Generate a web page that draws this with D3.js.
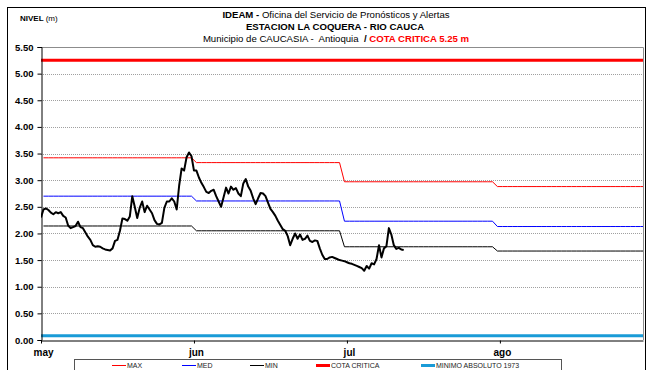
<!DOCTYPE html>
<html>
<head>
<meta charset="utf-8">
<script src="https://cdn.jsdelivr.net/npm/d3@7"></script>
<style>
  html, body { margin: 0; padding: 0; background: #ffffff; }
  svg { display: block; font-family: "Liberation Sans", Arial, sans-serif; }
</style>
</head>
<body>
<svg id="chart" width="647" height="370"></svg>
<script>
// ---- Data ----------------------------------------------------------------
// Month labels and their lengths (days) for the period shown
const monthLabels = ["may", "jun", "jul", "ago"];
const monthDays = [31, 30, 31, 31];

// Historical monthly statistics of the river level (m)
const maxMensual = [3.42, 3.33, 2.97, 2.88];
const medMensual = [2.70, 2.61, 2.23, 2.13];
const minMensual = [2.14, 2.05, 1.75, 1.67];

// Reference levels (m)
const cotaCritica = 5.25;
const minimoAbsoluto1973 = 0.08;

// Y axis tick values (m)
const yTicks = [0, 0.5, 1, 1.5, 2, 2.5, 3, 3.5, 4, 4.5, 5, 5.5];

// Observed level, one reading every 12 hours starting 1 May (m)
const nivelPasoDias = 0.5;
const nivel = [
  2.30, 2.45, 2.47, 2.44, 2.39, 2.36, 2.40, 2.38, 2.40, 2.33,
  2.30, 2.15, 2.10, 2.12, 2.14, 2.22, 2.12, 2.10, 2.02, 1.94,
  1.88, 1.78, 1.75, 1.76, 1.75, 1.72, 1.70, 1.69, 1.68, 1.72,
  1.86, 1.88, 2.05, 2.28, 2.27, 2.24, 2.32, 2.70, 2.50, 2.29,
  2.48, 2.60, 2.40, 2.52, 2.45, 2.38, 2.25, 2.18, 2.17, 2.20,
  2.48, 2.60, 2.60, 2.66, 2.60, 2.45, 2.90, 3.22, 3.18, 3.43,
  3.52, 3.45, 3.18, 3.18, 3.05, 2.95, 2.87, 2.78, 2.76, 2.80,
  2.82, 2.70, 2.60, 2.50, 2.68, 2.86, 2.75, 2.88, 2.82, 2.85,
  2.75, 2.70, 2.94, 3.02, 2.88, 2.80, 2.66, 2.55, 2.66, 2.76,
  2.75, 2.70, 2.58, 2.46, 2.40, 2.33, 2.24, 2.16, 2.08, 2.05,
  1.95, 1.78, 1.90, 2.00, 1.90, 1.98, 1.88, 1.90, 1.96, 1.86,
  1.84, 1.87, 1.86, 1.72, 1.60, 1.52, 1.52, 1.55, 1.56, 1.54,
  1.52, 1.50, 1.49, 1.48, 1.46, 1.44, 1.43, 1.41, 1.39, 1.37,
  1.35, 1.30, 1.39, 1.34, 1.44, 1.42, 1.52, 1.78, 1.55, 1.72,
  1.76, 2.10, 1.98, 1.78, 1.71, 1.73, 1.70, 1.69
];

// ---- Layout --------------------------------------------------------------
const plot = { left: 41, right: 643, top: 47, bottom: 340 };
const totalDays = 122;           // width of the category axis in days
const tickEvery = 31;            // axis tick interval in days

const svg = d3.select("#chart");

const x = d3.scaleLinear().domain([0, totalDays]).range([plot.left, plot.right]);
const y = d3.scaleLinear().domain([0, 5.5]).range([plot.bottom, plot.top]);

// Outer frame of the whole chart
svg.append("rect")
  .attr("x", 7.5).attr("y", 7.5)
  .attr("width", 638).attr("height", 400)
  .attr("fill", "none").attr("stroke", "#000").attr("stroke-width", 1);

// ---- Titles --------------------------------------------------------------
const t1 = svg.append("text").attr("x", 336).attr("y", 18)
  .attr("text-anchor", "middle").attr("font-size", 9.6).attr("fill", "#000");
t1.append("tspan").attr("font-weight", "bold").text("IDEAM - ");
t1.append("tspan").text("Oficina del Servicio de Pronósticos y Alertas");

svg.append("text").attr("x", 335).attr("y", 30)
  .attr("text-anchor", "middle").attr("font-size", 9.6)
  .attr("font-weight", "bold").attr("fill", "#000")
  .text("ESTACION LA COQUERA - RIO CAUCA");

const t3 = svg.append("text").attr("x", 336).attr("y", 42)
  .attr("text-anchor", "middle").attr("font-size", 9.6).attr("fill", "#000")
  .attr("xml:space", "preserve");
t3.append("tspan").text("Municipio de CAUCASIA -  Antioquia  ");
t3.append("tspan").attr("font-weight", "bold").text("/ ");
t3.append("tspan").attr("font-weight", "bold").attr("fill", "#ff0000")
  .text("COTA CRITICA 5.25 m");

const yl = svg.append("text").attr("x", 20).attr("y", 21)
  .attr("font-size", 8).attr("fill", "#000");
yl.append("tspan").attr("font-weight", "bold").text("NIVEL ");
yl.append("tspan").text("(m)");

// ---- Grid ----------------------------------------------------------------
svg.append("g")
  .selectAll("line")
  .data(yTicks.filter(v => v > 0 && v < 5.5))
  .join("line")
  .attr("x1", plot.left).attr("x2", plot.right)
  .attr("y1", d => Math.round(y(d)) + 0.5).attr("y2", d => Math.round(y(d)) + 0.5)
  .attr("stroke", "#a0a0a0").attr("stroke-width", 1)
  .attr("stroke-dasharray", "1,1");

// Plot area border (top and right)
svg.append("path")
  .attr("d", `M${plot.left},${plot.top + 0.5}H${plot.right + 0.5}V${plot.bottom}`)
  .attr("fill", "none").attr("stroke", "#8c8c8c").attr("stroke-width", 1);

// ---- Series --------------------------------------------------------------
svg.append("clipPath").attr("id", "plotClip")
  .append("rect")
  .attr("x", plot.left).attr("y", plot.top)
  .attr("width", plot.right - plot.left).attr("height", plot.bottom - plot.top);

const series = svg.append("g").attr("clip-path", "url(#plotClip)");

// expand monthly statistics to one value per day (plotted at mid-day)
function diario(mensual) {
  const out = [];
  let day = 0;
  mensual.forEach((v, m) => {
    for (let d = 0; d < monthDays[m]; d++) { out.push({ t: day + 0.5, v }); day++; }
  });
  return out;
}

const line = d3.line().x(d => x(d.t)).y(d => y(d.v));

// constant reference levels
[[minimoAbsoluto1973, "#1a9bd7", 3], [cotaCritica, "#ff0000", 3]].forEach(([v, c, w]) => {
  series.append("path")
    .attr("d", line([{ t: 0, v }, { t: totalDays, v }]))
    .attr("fill", "none").attr("stroke", c).attr("stroke-width", w);
});

[[minMensual, "#000000"], [medMensual, "#0000ff"], [maxMensual, "#ff0000"]].forEach(([s, c]) => {
  series.append("path")
    .attr("d", line(diario(s)))
    .attr("fill", "none").attr("stroke", c).attr("stroke-width", 1);
});

series.append("path")
  .attr("d", line(nivel.map((v, i) => ({ t: i * nivelPasoDias, v }))))
  .attr("fill", "none").attr("stroke", "#000").attr("stroke-width", 2)
  .attr("stroke-linejoin", "round");

// ---- Axes ----------------------------------------------------------------
const yAxis = svg.append("g")
  .attr("transform", `translate(${plot.left + 0.5},0)`)
  .call(d3.axisLeft(y).tickValues(yTicks).tickFormat(d3.format(".2f"))
    .tickSize(4).tickPadding(4));
yAxis.select(".domain").attr("stroke", "#000");
yAxis.selectAll("text").attr("font-size", 9.5).attr("font-weight", "bold")
  .attr("fill", "#000").attr("font-family", "'Liberation Sans', Arial, sans-serif");

const monthTicks = monthLabels.map((m, i) => i * tickEvery);
const xAxis = svg.append("g")
  .attr("transform", `translate(0,${plot.bottom + 0.5})`)
  .call(d3.axisBottom(x).tickValues(monthTicks).tickFormat((d, i) => monthLabels[i])
    .tickSize(3).tickSizeOuter(0).tickPadding(5));
xAxis.select(".domain").attr("stroke", "#000");
xAxis.selectAll("text").attr("font-size", 10).attr("font-weight", "bold")
  .attr("fill", "#000").attr("dx", 2)
  .attr("font-family", "'Liberation Sans', Arial, sans-serif");

// ---- Legend --------------------------------------------------------------
svg.append("rect")
  .attr("x", 74.5).attr("y", 359.5).attr("width", 487).attr("height", 30)
  .attr("fill", "#fff").attr("stroke", "#555").attr("stroke-width", 1);

const legendItems = [
  { label: "MAX", color: "#ff0000", w: 1, x: 112 },
  { label: "MED", color: "#0000ff", w: 1, x: 182 },
  { label: "MIN", color: "#000000", w: 1, x: 250 },
  { label: "COTA CRITICA", color: "#ff0000", w: 3, x: 316 },
  { label: "MINIMO ABSOLUTO 1973", color: "#1a9bd7", w: 3, x: 421 }
];
const lg = svg.append("g").selectAll("g").data(legendItems).join("g")
  .attr("transform", d => `translate(${d.x},365.5)`);
lg.append("line").attr("x1", 0).attr("x2", 14)
  .attr("stroke", d => d.color).attr("stroke-width", d => d.w);
lg.append("text").attr("x", 15).attr("dy", "0.35em")
  .attr("font-size", 7).attr("fill", "#222").text(d => d.label);
</script>
</body>
</html>
